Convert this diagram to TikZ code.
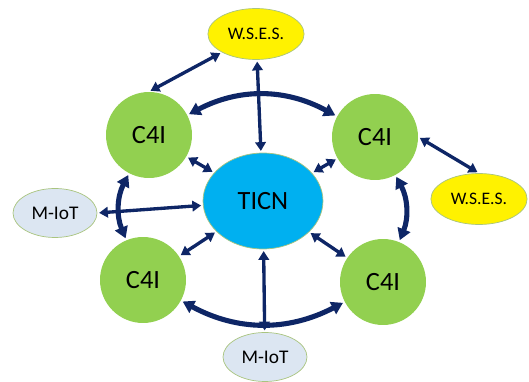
\documentclass[tikz,border=0pt]{standalone}
\usepackage{fontspec}
\setmainfont{Carlito}
\usetikzlibrary{arrows.meta,shapes.geometric}
\definecolor{navy}{HTML}{0E2666}
\definecolor{leaf}{HTML}{92D050}
\definecolor{sky}{HTML}{00B0F0}
\definecolor{mist}{HTML}{DCE6F2}
\definecolor{rim}{HTML}{A9C47F}
\tikzset{
  c4i/.style = {% the four command nodes
    circle,
    fill=leaf,
    minimum size=1.72cm,
    inner sep=0pt,
    font=\fontsize{15}{15}\selectfont,
  },
  hub/.style = {% the backbone in the middle
    ellipse,
    fill=sky,
    draw=rim, thin,
    minimum width=2.4cm, minimum height=1.92cm,
    font=\fontsize{15}{15}\selectfont,
  },
  wses/.style = {ellipse, fill=yellow, draw=rim, thin,
    minimum width=1.82cm, minimum height=1.02cm, font=\fontsize{10}{10}\selectfont},
  miot/.style = {ellipse, fill=mist, draw=rim, thin,
    minimum width=1.68cm, minimum height=0.98cm, font=\fontsize{11}{11}\selectfont},
  link/.style = {% thin two-way arrows
    draw=navy, line width=1.9pt,
    {Triangle[length=5pt,width=6pt]}-{Triangle[length=5pt,width=6pt]},
    shorten <=1pt, shorten >=1pt,
  },
  ring/.style = {% thick arcs between C4I nodes
    draw=navy, line width=2.9pt,
    {Triangle[length=6.5pt,width=7.5pt]}-{Triangle[length=6.5pt,width=7.5pt]},
    shorten <=1pt, shorten >=1pt,
  },
}
\begin{document}
\begin{tikzpicture}[x=0.02cm,y=-0.02cm]
  \useasboundingbox (0,0) rectangle (529,382);
  \node[hub] (ticn) at (263,201) {TICN};
  \node[c4i] (tl) at (149,135) {C4I};
  \node[c4i] (tr) at (375,137) {C4I};
  \node[c4i] (bl) at (143,280) {C4I};
  \node[c4i] (br) at (383,282) {C4I};
  \node[wses] (wsesT) at (256,34) {W.S.E.S.};
  \node[wses] (wsesR) at (479,199) {W.S.E.S.};
  \node[miot] (miotL) at (55,213) {M-IoT};
  \node[miot] (miotB) at (265,357) {M-IoT};
  % arcs round the hub
  \draw[ring] (tl) to[bend left=28] (tr);
  \draw[ring] (tr) to[bend left=25] (br);
  \draw[ring] (bl) to[bend right=28] (br);
  \draw[ring] (tl) to[bend right=25] (bl);
  % links to the hub
  \foreach \n in {tl,tr,bl,br} {
    \draw[link] (\n) -- (ticn);
  }
  \draw[link] (wsesT) -- (ticn);
  \draw[link] (miotB) -- (ticn);
  \draw[link] (miotL.east) -- (ticn);
  \draw[link] (tl.north) -- (wsesT);
  \draw[link] (tr.east) -- (wsesR.north);
\end{tikzpicture}
\end{document}
